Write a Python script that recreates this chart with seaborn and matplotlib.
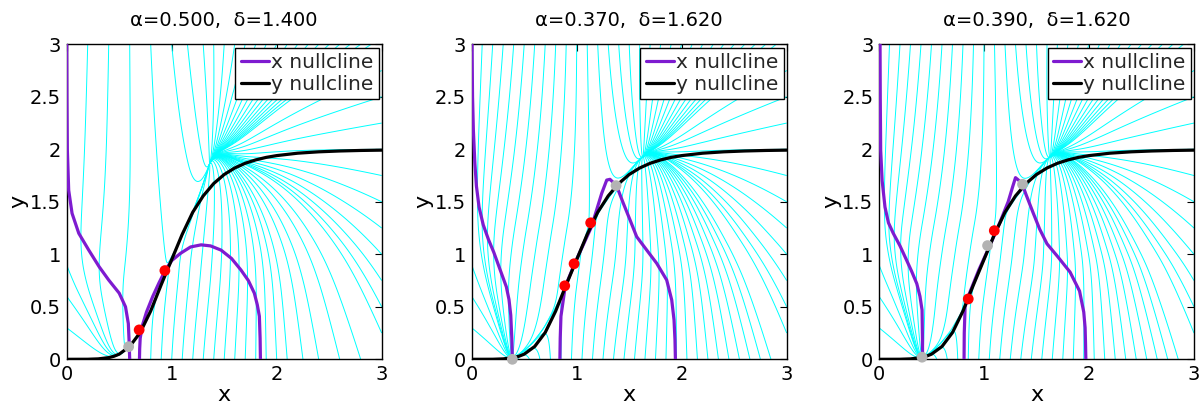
import numpy as np
import matplotlib
matplotlib.use('Agg')
import matplotlib.pyplot as plt
from matplotlib.collections import LineCollection
from matplotlib.ticker import FormatStrFormatter
import seaborn as sns

sns.set_theme(style="white")
plt.rcParams['font.family'] = ['DejaVu Sans']

titles = ['α=0.500,  δ=1.400', 'α=0.370,  δ=1.620', 'α=0.390,  δ=1.620']

# y nullcline (same curve in the three panels)
yn_x = [0.0, 0.2, 0.3, 0.4, 0.45, 0.5, 0.6, 0.7, 0.8, 0.9, 1.0, 1.1, 1.2, 1.3, 1.4,
        1.5, 1.6, 1.7, 1.8, 1.9, 2.0, 2.2, 2.4, 2.6, 2.8, 3.0]
yn_y = [0.0, 0.0005, 0.004, 0.016, 0.029, 0.049, 0.122, 0.255, 0.46, 0.71, 0.95, 1.19, 1.40, 1.556, 1.674,
        1.76, 1.822, 1.867, 1.899, 1.923, 1.94, 1.963, 1.976, 1.984, 1.989, 1.992]

# x nullcline: left branch (top -> bottom) and right hump
left1_x = [0.0, 0.002, 0.006, 0.019, 0.051, 0.115, 0.21, 0.31, 0.40, 0.50, 0.56, 0.587, 0.594, 0.60]
left1_y = [3.0, 2.5, 2.0, 1.61, 1.39, 1.2, 1.04, 0.88, 0.755, 0.63, 0.50, 0.34, 0.18, 0.0]
hump1_x = [0.693, 0.695, 0.70, 0.72, 0.76, 0.82, 0.88, 0.94, 1.0, 1.085, 1.18, 1.28, 1.37, 1.47,
           1.57, 1.66, 1.73, 1.787, 1.815, 1.835, 1.842, 1.845]
hump1_y = [0.0, 0.1, 0.2, 0.32, 0.45, 0.6, 0.73, 0.85, 0.94, 1.01, 1.07, 1.09, 1.08, 1.04,
           0.96, 0.85, 0.75, 0.63, 0.52, 0.41, 0.2, 0.0]

left2_x = [0.003, 0.008, 0.016, 0.03, 0.045, 0.07, 0.11, 0.16, 0.21, 0.25, 0.29, 0.33, 0.355,
           0.372, 0.382, 0.387]
left2_y = [3.0, 2.5, 2.18, 1.87, 1.65, 1.45, 1.28, 1.14, 1.02, 0.91, 0.8, 0.69, 0.57,
           0.42, 0.2, 0.0]
hump2_x = [0.84, 0.843, 0.85, 0.89, 0.98, 1.14, 1.238, 1.286, 1.317, 1.374, 1.396, 1.444, 1.508,
           1.571, 1.667, 1.762, 1.857, 1.905, 1.927, 1.936, 1.94]
hump2_y = [0.0, 0.2, 0.41, 0.69, 0.91, 1.26, 1.58, 1.707, 1.714, 1.66, 1.61, 1.486, 1.327,
           1.168, 1.04, 0.914, 0.755, 0.565, 0.374, 0.184, 0.0]

left3_x = [0.01, 0.012, 0.016, 0.03, 0.057, 0.09, 0.136, 0.2, 0.26, 0.31, 0.36, 0.39, 0.41,
           0.414, 0.415]
left3_y = [3.0, 2.5, 1.99, 1.7, 1.45, 1.3, 1.2, 1.08, 0.95, 0.84, 0.72, 0.6, 0.47,
           0.2, 0.0]
hump3_x = [0.81, 0.812, 0.82, 0.85, 0.95, 1.05, 1.15, 1.23, 1.275, 1.30, 1.36, 1.40, 1.47, 1.53,
           1.60, 1.70, 1.82, 1.91, 1.95, 1.963, 1.967, 1.97]
hump3_y = [0.0, 0.25, 0.5, 0.6, 0.85, 1.07, 1.3, 1.5, 1.65, 1.73, 1.68, 1.57, 1.39, 1.24,
           1.10, 0.98, 0.83, 0.65, 0.45, 0.3, 0.15, 0.0]

# fixed points
red1_x, red1_y = [0.69, 0.935], [0.28, 0.845]
gray1_x, gray1_y = [0.59], [0.12]
red2_x, red2_y = [0.886, 0.975, 1.133], [0.70, 0.91, 1.30]
gray2_x, gray2_y = [0.387, 1.375], [0.0, 1.654]
red3_x, red3_y = [0.85, 1.098], [0.575, 1.225]
gray3_x, gray3_y = [0.41, 1.034, 1.367], [0.02, 1.083, 1.667]

# roots of x' used for the flow lines (x as a function of y), plus the point
# where the flow lines bunch up
r1a_y = [0, 0.15, 0.3, 0.5, 0.7, 0.85, 1.1, 1.6, 2.2, 3.0]
r1a_x = [0.693, 0.696, 0.71, 0.76, 0.85, 0.94, 0.84, 0.7, 0.58, 0.55]
r1b_y = [0, 0.41, 0.63, 0.85, 1.1, 1.4, 1.85, 2.4, 3.0]
r1b_x = [1.845, 1.835, 1.787, 1.66, 1.52, 1.43, 1.36, 1.38, 1.42]
fan1 = (1.35, 1.85)

r2a_y = [0, 0.2, 0.41, 0.69, 0.91, 1.26, 1.6, 2.2, 3.0]
r2a_x = [0.84, 0.845, 0.85, 0.89, 0.98, 1.14, 1.12, 1.08, 1.02]
r2b_y = [0, 0.2, 0.47, 0.72, 0.91, 1.10, 1.5, 1.95, 2.4, 3.0]
r2b_x = [1.94, 1.935, 1.92, 1.84, 1.71, 1.59, 1.60, 1.63, 1.62, 1.58]
fan2 = (1.63, 1.93)

r3a_y = [0, 0.25, 0.5, 0.6, 0.85, 1.07, 1.3, 1.6, 2.2, 3.0]
r3a_x = [0.81, 0.812, 0.82, 0.85, 0.95, 1.05, 1.15, 1.13, 1.08, 1.02]
r3b_y = [0, 0.15, 0.37, 0.63, 0.85, 1.01, 1.5, 1.95, 2.4, 3.0]
r3b_x = [1.97, 1.967, 1.96, 1.93, 1.82, 1.66, 1.61, 1.63, 1.62, 1.58]
fan3 = (1.63, 1.93)

panels = [
    dict(left=(left1_x, left1_y), hump=(hump1_x, hump1_y), red=(red1_x, red1_y), gray=(gray1_x, gray1_y),
         ra=(r1a_y, r1a_x), rb=(r1b_y, r1b_x), fan=fan1,
         top=[0.2, 0.4, 0.6, 0.8, 1.0, 1.15] + list(np.arange(1.3, 2.95, 0.1)),
         bottom=list(np.arange(0.8, 2.15, 0.1)) + [2.25, 2.4, 2.6, 2.8]),
    dict(left=(left2_x, left2_y), hump=(hump2_x, hump2_y), red=(red2_x, red2_y), gray=(gray2_x, gray2_y),
         ra=(r2a_y, r2a_x), rb=(r2b_y, r2b_x), fan=fan2,
         top=list(np.arange(0.1, 2.95, 0.1)), bottom=list(np.arange(0.45, 2.9, 0.1))),
    dict(left=(left3_x, left3_y), hump=(hump3_x, hump3_y), red=(red3_x, red3_y), gray=(gray3_x, gray3_y),
         ra=(r3a_y, r3a_x), rb=(r3b_y, r3b_x), fan=fan3,
         top=list(np.arange(0.1, 2.95, 0.1)), bottom=list(np.arange(0.45, 2.9, 0.1))),
]

purple = '#7E1BD0'
cyan = '#00FFFF'


def flow_lines(p, T=25.0, dt=0.02):
    lx, ly = np.array(p['left'][0])[::-1], np.array(p['left'][1])[::-1]
    fx, fy = p['fan']
    gfan = fy - np.interp(fx, yn_x, yn_y)

    def rhs(P):
        x, y = P[:, 0], P[:, 1]
        a = np.interp(y, ly, lx)
        b = np.interp(y, *p['ra'])
        c = np.interp(y, *p['rb'])
        dx = -(x - a) * (x - b) * (x - c) / (1 + np.abs(x - a) * np.abs(x - 0.5 * (b + c)))
        g = np.interp(x, yn_x, yn_y) + gfan * np.exp(-((x - fx) / 0.35) ** 2)
        d = g - y
        dy = d * (1 + 0.6 / (1 + np.exp(-d / 0.2)))
        return np.column_stack([dx, dy])

    seeds = [(x, 3.0) for x in p['top']]
    seeds += [(3.0, y) for y in np.arange(0.25, 2.9, 0.25)]
    seeds += [(x, 0.0) for x in p['bottom']]
    seeds += [(0.0, y) for y in [0.3, 0.6, 0.9]]
    P = np.array(seeds, dtype=float)
    out = [P.copy()]
    for _ in range(int(T / dt)):
        k1 = rhs(P)
        k2 = rhs(P + 0.5 * dt * k1)
        k3 = rhs(P + 0.5 * dt * k2)
        k4 = rhs(P + dt * k3)
        P = P + dt / 6 * (k1 + 2 * k2 + 2 * k3 + k4)
        out.append(P.copy())
    out = np.array(out)
    return [out[:, i, :] for i in range(out.shape[1])]


fig = plt.figure(figsize=(12.04, 4.11), dpi=100)
lefts = [66.7, 471.7, 879.0]
for i, p in enumerate(panels):
    ax = fig.add_axes([lefts[i] / 1204, 51.7 / 411, 315 / 1204, 315 / 411])

    lc = LineCollection(flow_lines(p), colors=cyan, linewidths=0.7, zorder=1)
    ax.add_collection(lc)

    sns.lineplot(x=p['left'][0], y=p['left'][1], sort=False, estimator=None, color=purple,
                 lw=2.3, ax=ax, label='x nullcline', zorder=3)
    sns.lineplot(x=p['hump'][0], y=p['hump'][1], sort=False, estimator=None, color=purple,
                 lw=2.3, ax=ax, zorder=3)
    sns.lineplot(x=yn_x, y=yn_y, sort=False, estimator=None, color='black',
                 lw=2.3, ax=ax, label='y nullcline', zorder=4)
    ax.scatter(p['red'][0], p['red'][1], s=60, color='#FF0000', edgecolors='none', zorder=5, clip_on=False)
    ax.scatter(p['gray'][0], p['gray'][1], s=60, color='#B3B3B3', edgecolors='none', zorder=5, clip_on=False)

    ax.set_xlim(0, 3)
    ax.set_ylim(0, 3)
    ax.set_xticks([0, 1, 2, 3])
    ax.set_yticks([0, 0.5, 1, 1.5, 2, 2.5, 3])
    ax.yaxis.set_major_formatter(FormatStrFormatter('%g'))
    ax.tick_params(direction='in', top=True, right=True, length=5, width=0.8,
                   labelsize=14, pad=4, colors='black')
    for s in ax.spines.values():
        s.set_color('black')
        s.set_linewidth(1.0)
    ax.set_xlabel('x', fontsize=16, labelpad=1, color='black')
    ax.set_ylabel('y', fontsize=16, labelpad=1, color='black')
    ax.set_title(titles[i], fontsize=14, pad=13, color='black')

    leg = ax.legend(loc='upper right', bbox_to_anchor=(0.99, 0.988), borderaxespad=0,
                    frameon=True, fancybox=False, edgecolor='black', framealpha=1,
                    fontsize=14.5, handlelength=1.4, handletextpad=0.12,
                    borderpad=0.25, labelspacing=0.15)
    leg.get_frame().set_linewidth(1.0)

fig.savefig('out.png', dpi=100)
